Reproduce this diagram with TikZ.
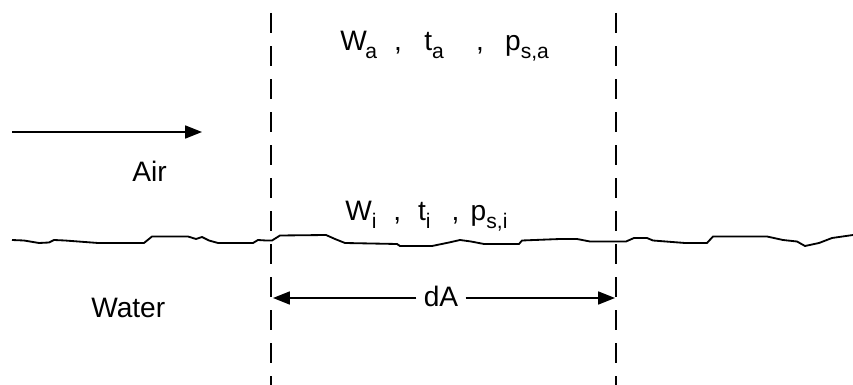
\documentclass[tikz,border=0pt]{standalone}
\usepackage{fontspec}
\setmainfont{Liberation Sans}
\usetikzlibrary{arrows.meta,positioning}

\newcommand{\dn}[1]{\raisebox{-0.28em}{\fontsize{15}{15}\selectfont #1}}

\tikzset{
  lbl/.style={font=\fontsize{20}{22}\selectfont, inner sep=0pt},
  gaplbl/.style={lbl, inner xsep=5pt},
  guide/.style={line width=1.4pt, dash pattern=on 0.5cm off 0.325cm},
  flow/.style={-{Triangle[length=0.42cm,width=0.32cm]}, line width=1.4pt},
  surface/.style={line width=1.3pt, line join=round},
}

\begin{document}
\begin{tikzpicture}[x=0.025cm, y=-0.025cm]
\useasboundingbox (0,0) rectangle (853,385);

% control volume
\coordinate (lt) at (271,13);
\coordinate (lb) at (271,385);
\coordinate (rt) at (616,13);
\coordinate (rb) at (616,385);
\draw[guide] (lt) -- (lb);
\draw[guide] (rt) -- (rb);

% air-water interface
\draw[surface] plot coordinates {
  (12,240) (24,240.5) (39,243) (49,242.5) (54,240) (65,240.5) (98,243)
  (144,243) (152,236.5) (188,236.5) (196,239) (202,237) (209,240.5)
  (218,243) (253,243) (258,240) (266,240.5) (272,240.5) (280,235.5)
  (326,235) (335,239) (345,243) (397,244) (400,246) (432,246) (449,242.5)
  (460,240) (471,241.5) (484,244) (519,244) (522,240.5) (560,239)
  (577,239) (590,241.5) (626,241.5) (634,238) (647,238) (653,240.5)
  (685,243) (707,243) (713,236.5) (767,236.5) (783,240) (797,241.5)
  (805,246) (819,243) (832,238) (853,235)};

% air stream
\coordinate (a0) at (12,132);
\coordinate (a1) at (202,132);
\draw[flow] (a0) -- (a1);

\node[lbl, anchor=base west] (air) at (132,182) {Air};
\node[lbl, anchor=base west] (water) at (91,317) {Water};

\node[lbl, anchor=base west] (bulk) at (340,51)
  {W\hspace{-1pt}\dn{a}\hspace{12pt},\hspace{16pt}t\dn{a}\hspace{23pt},\hspace{15pt}p\dn{s,a}};
\node[lbl, anchor=base west] (surf) at (345,221)
  {W\dn{i}\hspace{12pt},\hspace{12pt}t\dn{i}\hspace{15pt},\hspace{8pt}p\dn{s,i}};

% element width
\coordinate (dl) at (273,298);
\coordinate (dr) at (615,298);
\node[gaplbl, anchor=base] (dA) at (441,307) {dA};
\draw[flow] (dA.west |- dl) -- (dl);
\draw[flow] (dA.east |- dr) -- (dr);
\end{tikzpicture}
\end{document}
